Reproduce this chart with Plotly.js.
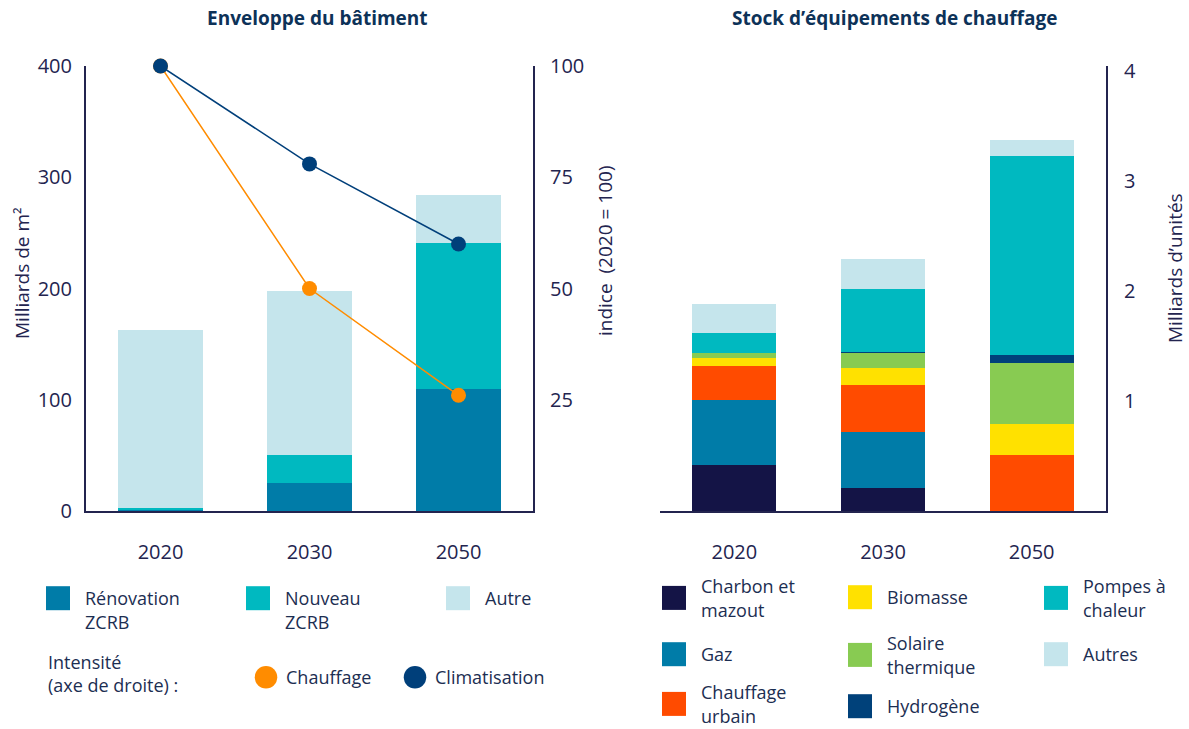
<!DOCTYPE html>
<html>
<head>
<meta charset="utf-8">
<script src="https://cdn.plot.ly/plotly-3.0.1.min.js"></script>
<style>html,body{margin:0;padding:0;background:#fff;}#chart{width:1189px;height:729px;}</style>
</head>
<body>
<div id="chart"></div>
<script>
// ---- Data: left panel (Enveloppe du bâtiment) ----
const years = ['2020', '2030', '2050'];
const renovationZCRB = [0.5, 25, 110];
const nouveauZCRB = [2.5, 25, 131];
const autre = [160, 148, 43];
const chauffageIdx = [100, 50, 26];
const climatisationIdx = [100, 78, 60];

// ---- Data: right panel (Stock d'équipements de chauffage) ----
const charbonMazout = [0.42, 0.21, 0];
const gaz = [0.59, 0.51, 0];
const chauffageUrbain = [0.31, 0.43, 0.51];
const biomasse = [0.07, 0.15, 0.28];
const solaireThermique = [0.05, 0.14, 0.56];
const hydrogene = [0, 0.01, 0.07];
const pompesChaleur = [0.18, 0.57, 1.81];
const autres = [0.26, 0.27, 0.15];

const FONT = 'Open Sans, Noto Sans, sans-serif';
const NAVY = '#23244f';
const TXT = '#1c2e52';
const W = 1189, H = 729;
const px = v => v / W;
const py = v => 1 - v / H;

const barW = 0.565;
function bar(x, y, name, color, xa, ya, legend, rank) {
  return {type: 'bar', x: x, y: y, name: name, xaxis: xa, yaxis: ya,
    marker: {color: color, line: {width: 0}}, width: barW,
    legend: legend, legendrank: rank, hoverinfo: 'x+y+name'};
}

const traces = [
  bar(years, renovationZCRB, 'Rénovation<br>ZCRB', '#007ca8', 'x', 'y', 'legend', 1),
  bar(years, nouveauZCRB, 'Nouveau<br>ZCRB', '#00b9c0', 'x', 'y', 'legend', 2),
  bar(years, autre, 'Autre', '#c5e5ec', 'x', 'y', 'legend', 3),
  {type: 'scatter', mode: 'lines+markers', x: years, y: chauffageIdx, name: 'Chauffage',
   xaxis: 'x', yaxis: 'y2', line: {color: '#ff8c00', width: 1.5},
   marker: {color: '#ff8c00', size: 15}, legend: 'legend2', legendrank: 1, cliponaxis: false},
  {type: 'scatter', mode: 'lines+markers', x: years, y: climatisationIdx, name: 'Climatisation',
   xaxis: 'x', yaxis: 'y2', line: {color: '#003f7a', width: 1.5},
   marker: {color: '#003f7a', size: 15}, legend: 'legend2', legendrank: 2, cliponaxis: false},

  bar(years, charbonMazout, 'Charbon et<br>mazout', '#141446', 'x2', 'y3', 'legend3', 1),
  bar(years, gaz, 'Gaz', '#007ca8', 'x2', 'y3', 'legend4', 1),
  bar(years, chauffageUrbain, 'Chauffage<br>urbain', '#ff4b00', 'x2', 'y3', 'legend5', 1),
  bar(years, biomasse, 'Biomasse', '#ffe100', 'x2', 'y3', 'legend6', 1),
  bar(years, solaireThermique, 'Solaire<br>thermique', '#88cb52', 'x2', 'y3', 'legend7', 1),
  bar(years, hydrogene, 'Hydrogène', '#00417a', 'x2', 'y3', 'legend8', 1),
  bar(years, pompesChaleur, 'Pompes à<br>chaleur', '#00b9c0', 'x2', 'y3', 'legend9', 1),
  bar(years, autres, 'Autres', '#c5e5ec', 'x2', 'y3', 'legend10', 1)
];

const tickFont = {family: FONT, size: 20, color: NAVY};
const axTitleFont = {family: FONT, size: 19, color: NAVY};
const legFont = {family: FONT, size: 18, color: TXT};

function rowLegend(x, y, entry, valign) {
  const l = {orientation: 'h', x: px(x), y: py(y), xanchor: 'left', yanchor: 'top',
    font: legFont, traceorder: 'normal', bgcolor: 'rgba(0,0,0,0)',
    itemwidth: 30, valign: valign || 'top'};
  if (entry) l.entrywidth = entry;
  return l;
}

const axisBase = {showline: true, linecolor: NAVY, linewidth: 2, ticks: '', showgrid: false,
  zeroline: false, tickfont: tickFont};

function axTitle(text, x, y) {
  return {text: text, xref: 'paper', yref: 'paper', x: px(x), y: py(y), textangle: -90,
    xanchor: 'center', yanchor: 'middle', showarrow: false, font: axTitleFont};
}

const layout = {
  width: W, height: H,
  margin: {l: 0, r: 0, t: 0, b: 0, autoexpand: false},
  paper_bgcolor: '#ffffff', plot_bgcolor: 'rgba(0,0,0,0)',
  barmode: 'stack',
  font: {family: FONT, color: TXT},
  xaxis: Object.assign({}, axisBase, {domain: [px(86), px(533)], anchor: 'y', type: 'category',
    range: [-0.5, 2.5], ticklabelstandoff: 22}),
  yaxis: Object.assign({}, axisBase, {domain: [py(511), py(66)], anchor: 'x', range: [0, 400],
    tickvals: [0, 100, 200, 300, 400], ticklabelstandoff: 8}),
  yaxis2: Object.assign({}, axisBase, {overlaying: 'y', side: 'right', anchor: 'x', range: [0, 100],
    tickvals: [25, 50, 75, 100], ticklabelstandoff: 11}),
  xaxis2: Object.assign({}, axisBase, {domain: [px(660), px(1106)], anchor: 'y3', type: 'category',
    range: [-0.5, 2.5], ticklabelstandoff: 22}),
  yaxis3: Object.assign({}, axisBase, {domain: [py(511), py(66)], anchor: 'x2', side: 'right',
    range: [0, 4.05], tickvals: [1, 2, 3, 4], ticklabelstandoff: 12}),
  // left panel legends
  legend: rowLegend(45, 580, 155, 'top'),
  legend2: rowLegend(246, 659, 104, 'middle'),
  // right panel legend grid (3 columns)
  legend3: rowLegend(661, 568, null, 'middle'),   // Charbon et mazout
  legend4: rowLegend(661, 636, null, 'top'),      // Gaz
  legend5: rowLegend(661, 674, null, 'middle'),   // Chauffage urbain
  legend6: rowLegend(847, 579, null, 'top'),      // Biomasse
  legend7: rowLegend(847, 625, null, 'middle'),   // Solaire thermique
  legend8: rowLegend(847, 688, null, 'top'),      // Hydrogène
  legend9: rowLegend(1043, 568, null, 'middle'),  // Pompes à chaleur
  legend10: rowLegend(1043, 636, null, 'top'),    // Autres
  annotations: [
    {text: '<b>Enveloppe du bâtiment</b>', xref: 'paper', yref: 'paper', x: px(318), y: py(18),
     xanchor: 'center', yanchor: 'middle', showarrow: false, font: {family: FONT, size: 19, color: '#0d3258'}},
    {text: '<b>Stock d’équipements de chauffage</b>', xref: 'paper', yref: 'paper', x: px(894), y: py(18),
     xanchor: 'center', yanchor: 'middle', showarrow: false, font: {family: FONT, size: 19, color: '#0d3258'}},
    {text: 'Intensité<br>(axe de droite) :', xref: 'paper', yref: 'paper', x: px(46), y: py(673),
     xanchor: 'left', yanchor: 'middle', align: 'left', showarrow: false, font: legFont},
    axTitle('Milliards de m²', 22, 273),
    axTitle('indice  (2020 = 100)', 605, 251),
    axTitle('Milliards d’unités', 1175, 268)
  ]
};

Plotly.newPlot('chart', traces, layout, {displayModeBar: false, staticPlot: true}).then(function (gd) {
  // enlarge legend swatches and drop the line segment from the line-series legend entries
  gd.querySelectorAll('g.legendlines').forEach(function (g) { g.style.display = 'none'; });
  gd.querySelectorAll('g.legendpoints path').forEach(function (p) {
    const t = p.getAttribute('transform') || '';
    const isBar = p.classList.contains('legendbar') || /M6,6H-6V-6H6Z/.test(p.getAttribute('d') || '');
    p.setAttribute('transform', isBar ? ('translate(-7,0) ' + t + ' scale(2)') : (t + ' scale(1.5)'));
  });
});
</script>
</body>
</html>
